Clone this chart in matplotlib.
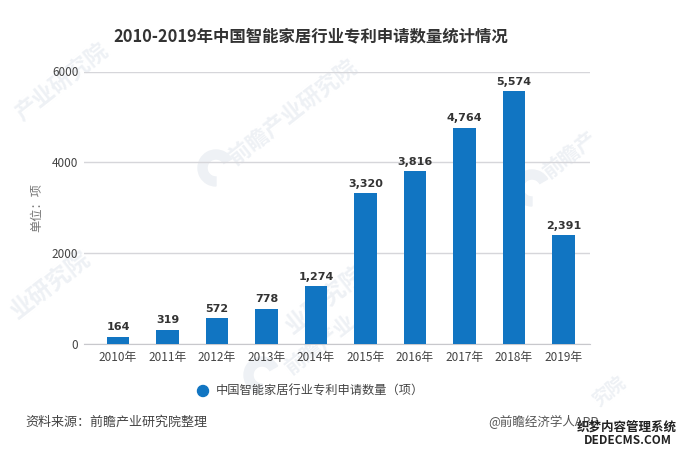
import matplotlib
matplotlib.use('Agg')
import matplotlib.pyplot as plt
from matplotlib.patches import Circle, Wedge

plt.rcParams['font.family'] = ['Noto Sans CJK SC', 'DejaVu Sans']

years = ['2010年', '2011年', '2012年', '2013年', '2014年', '2015年', '2016年', '2017年', '2018年', '2019年']
patents = [164, 319, 572, 778, 1274, 3320, 3816, 4764, 5574, 2391]
y_ticks = [0, 2000, 4000, 6000]

W, H = 688, 455
WM = '#eef1f5'
fig = plt.figure(figsize=(W / 100, H / 100), dpi=100)

# background layer in pixel coordinates for the watermarks
bg = fig.add_axes([0, 0, 1, 1], zorder=-1)
bg.set_xlim(0, W)
bg.set_ylim(H, 0)
bg.axis('off')
wm = [(62, 82, '产业研究院', 16), (293, 112, '前瞻产业研究院', 16), (50, 285, '业研究院', 17),
      (325, 300, '业研究院', 17), (570, 155, '前瞻产', 15), (320, 345, '前瞻产业', 15), (610, 392, '究院', 13)]
for x, y, s, size in wm:
    bg.text(x, y, s, color=WM, fontsize=size, rotation=38, ha='center', va='center', fontweight='bold')
for x, y in [(216, 168), (532, 188), (262, 375)]:
    bg.add_patch(Wedge((x, y), 18, 90, 330, width=9, color=WM))

ax = fig.add_axes([84 / W, 1 - 344 / H, 506 / W, 272.5 / H])
ax.patch.set_alpha(0)
ax.bar(range(len(years)), patents, width=0.46, color='#1175c2', zorder=3)
for i, v in enumerate(patents):
    ax.annotate(f'{v:,}', (i, v), xytext=(0, 3), textcoords='offset points', ha='center', va='bottom',
                fontsize=8, fontweight='bold', color='#333333', family='DejaVu Sans')

ax.set_xlim(-0.687, 9.535)
ax.set_ylim(0, 6000)
ax.set_xticks(range(len(years)))
ax.set_xticklabels(years)
ax.set_yticks(y_ticks)
ax.tick_params(axis='x', length=0, pad=5, labelsize=8.5, labelcolor='#444444')
ax.tick_params(axis='y', length=0, pad=4, labelsize=8.5, labelcolor='#444444')
ax.grid(axis='y', color='#d6d6da', linewidth=1, zorder=0)
for s in ['top', 'right', 'left']:
    ax.spines[s].set_visible(False)
ax.spines['bottom'].set_color('#c8c8cc')

# foreground layer: title, legend, footer
fg = fig.add_axes([0, 0, 1, 1], zorder=5)
fg.set_xlim(0, W)
fg.set_ylim(H, 0)
fg.axis('off')
fg.text(311, 36, '2010-2019年中国智能家居行业专利申请数量统计情况', fontsize=11.8,
        fontweight='bold', color='#333333', ha='center', va='center')
fg.text(37, 208, '单位：项', fontsize=8.8, color='#777777', rotation=90, ha='center', va='center')
fg.add_patch(Circle((203, 391), 5.5, color='#1175c2'))
fg.text(216, 391, '中国智能家居行业专利申请数量（项）', fontsize=8.8, color='#444444', va='center')
fg.text(25, 422, '资料来源：前瞻产业研究院整理', fontsize=9.4, color='#444444', va='center')
fg.text(488, 422, '@前瞻经济学人APP', fontsize=9, color='#555555', va='center')
fg.text(627, 427, '织梦内容管理系统', fontsize=9, color='#222222', fontweight='bold', ha='center', va='center')
fg.text(628, 441, 'DEDECMS.COM', fontsize=8.5, color='#222222', fontweight='bold', ha='center', va='center')

fig.savefig('out.png', dpi=100)
